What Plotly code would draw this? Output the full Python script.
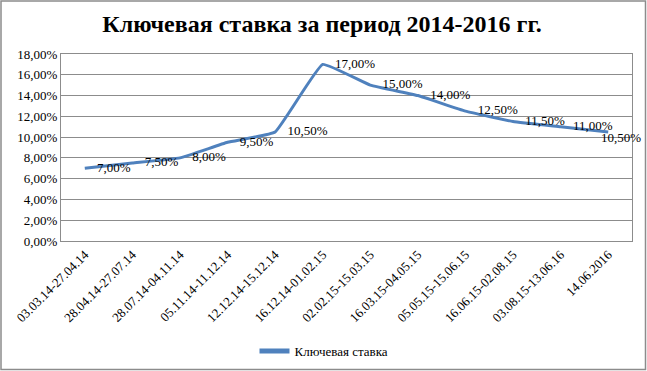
import plotly.graph_objects as go

categories = ["03.03.14-27.04.14", "28.04.14-27.07.14", "28.07.14-04.11.14", "05.11.14-11.12.14",
              "12.12.14-15.12.14", "16.12.14-01.02.15", "02.02.15-15.03.15", "16.03.15-04.05.15",
              "05.05.15-15.06.15", "16.06.15-02.08.15", "03.08.15-13.06.16", "14.06.2016"]
rates = [0.07, 0.075, 0.08, 0.095, 0.105, 0.17, 0.15, 0.14, 0.125, 0.115, 0.11, 0.105]
series_name = "Ключевая ставка"
title_text = "Ключевая ставка за период 2014-2016 гг."

labels = [f"{v*100:.2f}%".replace(".", ",") for v in rates]

FONT = "Liberation Serif, Times New Roman, serif"
W, H = 647, 371
L, R, T, B = 61, 15, 54, 130
pw, ph = W - L - R, H - T - B

def px_x(p):
    return (p - L) / pw

def px_y(p):
    return (H - B - p) / ph

trace_text = labels[:-1] + [""]

fig = go.Figure()
fig.add_trace(go.Scatter(
    x=categories, y=rates, mode="lines+markers+text", name=series_name,
    text=trace_text, textposition="middle right",
    textfont=dict(family=FONT, size=13, color="#000000"),
    line=dict(color="#4F81BD", width=3, shape="spline", smoothing=0.3),
    marker=dict(size=18, color="rgba(0,0,0,0)", line=dict(width=0)),
    cliponaxis=False,
))

fig.update_layout(
    width=W, height=H,
    margin=dict(l=L, r=R, t=T, b=B, autoexpand=False),
    paper_bgcolor="white", plot_bgcolor="white",
    separators=",.",
    title=dict(text=f"<b>{title_text}</b>", x=322 / W, xref="container", xanchor="center",
               y=1 - 24 / H, yanchor="middle",
               font=dict(family=FONT, size=24, color="#000000")),
    font=dict(family=FONT, size=13, color="#000000"),
    showlegend=True,
    legend=dict(orientation="h", x=px_x(324), xanchor="center", y=px_y(351), yanchor="middle",
                font=dict(family=FONT, size=13, color="#000000"), bgcolor="rgba(0,0,0,0)",
                itemsizing="constant"),
    xaxis=dict(type="category", tickangle=-45, showgrid=False, showline=True, mirror=True,
               linecolor="#8C8C8C", linewidth=1, ticks="", tickfont=dict(family=FONT, size=13),
               range=[-0.5, len(categories) - 0.5]),
    yaxis=dict(range=[0, 0.18], dtick=0.02, tickformat=".2%", showgrid=True, gridcolor="#8C8C8C",
               gridwidth=1, showline=True, mirror=True, linecolor="#8C8C8C", linewidth=1,
               zeroline=False, ticks="", tickfont=dict(family=FONT, size=13)),
    annotations=[dict(x=categories[-1], y=rates[-1], xref="x", yref="y", text=labels[-1],
                      showarrow=False, xanchor="left", yanchor="middle", xshift=-9, yshift=-6,
                      font=dict(family=FONT, size=13, color="#000000"))],
    shapes=[dict(type="rect", xref="paper", yref="paper",
                 x0=px_x(1), x1=px_x(645.5), y0=px_y(369.5), y1=px_y(1),
                 line=dict(color="#8C8C8C", width=1.5), fillcolor="rgba(0,0,0,0)", layer="below")],
)

fig.write_html("out.html", config={"displayModeBar": False},
               post_script="document.body.style.margin='0';document.body.style.padding='0';document.body.style.overflow='hidden';")
